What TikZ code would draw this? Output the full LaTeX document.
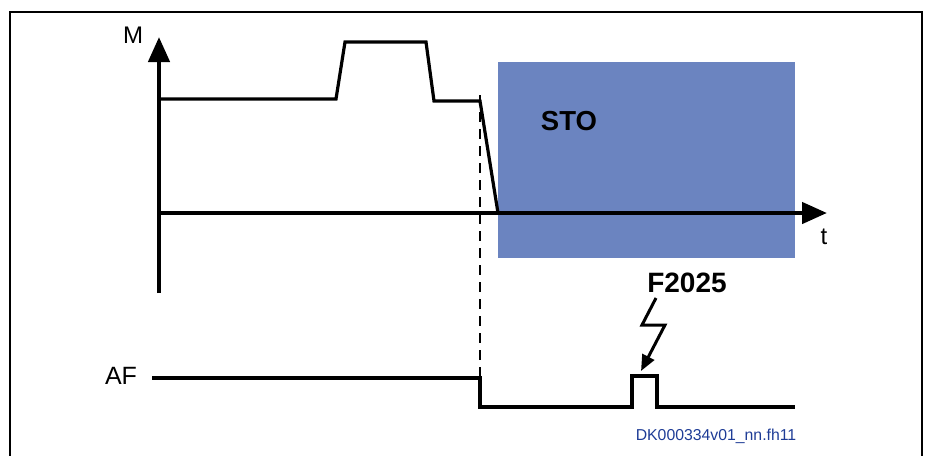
\documentclass[tikz,border=0pt]{standalone}
\usepackage{fontspec}
\setmainfont{Liberation Sans}
\usetikzlibrary{arrows.meta}
\definecolor{stoblue}{RGB}{107,132,192}
\definecolor{refblue}{RGB}{30,60,150}
\tikzset{
  axis/.style={line width=4.5pt, -{Triangle[length=25pt, width=21pt]}},
  signal/.style={line width=3.2pt, line join=miter},
  lbl/.style={font=\fontsize{24}{27}\selectfont, inner sep=0pt},
  bold lbl/.style={font=\fontsize{28}{31}\selectfont\bfseries, inner sep=0pt}
}
\begin{document}
\begin{tikzpicture}[x=1pt, y=-1pt]
    \useasboundingbox (0,0) rectangle (928,455);
    % Frame
    \draw[line width=2.6pt] (10,470) -- (10,12) -- (922,12) -- (922,470);
    % STO area
    \fill[stoblue] (498,62) rectangle (795,258);
    \node[bold lbl, font=\fontsize{27.5}{30}\selectfont\bfseries] (sto) at (569,121) {STO};
    % Axes
    \draw[axis] (159,293) -- (159,37);
    \draw[axis] (159,213) -- (827,213);
    \node[lbl] (m) at (133,35) {M};
    \node[lbl] (t) at (824,237) {t};
    % Torque curve
    \draw[signal] (159,99) -- (336,99) -- (345,42) -- (426,42) -- (434,101)
        -- (480,101) -- (498,213);
    % Dashed marker
    \draw[line width=2.6pt, dash pattern=on 10pt off 7pt] (480,95) -- (480,378);
    % AF signal
    \node[lbl, font=\fontsize{25}{28}\selectfont] (af) at (121,376) {AF};
    \draw[signal] (152,378) -- (480,378) -- (480,407) -- (632,407) -- (632,376)
        -- (657,376) -- (657,407) -- (795,407);
    % Fault F2025
    \node[bold lbl] (fault) at (687,283) {F2025};
    \draw[line width=3pt, -{Triangle[length=16pt, width=13pt]}]
        (656,298) -- (642,325) -- (665,325) -- (641,371);
    % Reference
    \node[font=\fontsize{15.8}{18}\selectfont, text=refblue, inner sep=0pt] (ref) at (716,436) {DK000334v01\_nn.fh11};
\end{tikzpicture}
\end{document}
